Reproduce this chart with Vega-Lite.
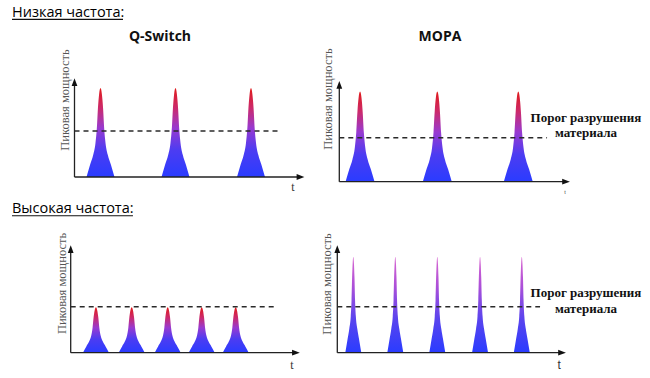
{
  "$schema": "https://vega.github.io/schema/vega-lite/v6.json",
  "padding": 0,
  "spacing": 0,
  "bounds": "flush",
  "columns": 2,
  "background": "white",
  "config": {"view": {"stroke": null}, "concat": {"spacing": 0}},
  "datasets": {
    "pulses": [
      {"panel": "A", "id": "A1", "t": [0.48, 0.626, 0.749, 0.838, 0.894, 0.939, 0.984, 1.04, 1.096, 1.141, 1.186, 1.242, 1.331, 1.454, 1.6], "p": [0, 0.14, 0.25, 0.38, 0.55, 0.78, 0.93, 1, 0.93, 0.78, 0.55, 0.38, 0.25, 0.14, 0]},
      {"panel": "A", "id": "A2", "t": [3.48, 3.626, 3.749, 3.838, 3.894, 3.939, 3.984, 4.04, 4.096, 4.141, 4.186, 4.242, 4.331, 4.454, 4.6], "p": [0, 0.14, 0.25, 0.38, 0.55, 0.78, 0.93, 1, 0.93, 0.78, 0.55, 0.38, 0.25, 0.14, 0]},
      {"panel": "A", "id": "A3", "t": [6.5, 6.646, 6.769, 6.858, 6.914, 6.959, 7.004, 7.06, 7.116, 7.161, 7.206, 7.262, 7.351, 7.474, 7.62], "p": [0, 0.14, 0.25, 0.38, 0.55, 0.78, 0.93, 1, 0.93, 0.78, 0.55, 0.38, 0.25, 0.14, 0]},
      {"panel": "B", "id": "B1", "t": [0.25, 0.401, 0.528, 0.621, 0.679, 0.726, 0.772, 0.83, 0.888, 0.934, 0.981, 1.039, 1.132, 1.259, 1.41], "p": [0, 0.142, 0.253, 0.385, 0.557, 0.79, 0.942, 1.013, 0.942, 0.79, 0.557, 0.385, 0.253, 0.142, 0]},
      {"panel": "B", "id": "B2", "t": [3.34, 3.491, 3.618, 3.711, 3.769, 3.816, 3.862, 3.92, 3.978, 4.024, 4.071, 4.129, 4.222, 4.349, 4.5], "p": [0, 0.142, 0.253, 0.385, 0.557, 0.79, 0.942, 1.013, 0.942, 0.79, 0.557, 0.385, 0.253, 0.142, 0]},
      {"panel": "B", "id": "B3", "t": [6.58, 6.731, 6.858, 6.951, 7.009, 7.056, 7.102, 7.16, 7.218, 7.264, 7.311, 7.369, 7.462, 7.589, 7.74], "p": [0, 0.142, 0.253, 0.385, 0.557, 0.79, 0.942, 1.013, 0.942, 0.79, 0.557, 0.385, 0.253, 0.142, 0]},
      {"panel": "C", "id": "C1", "t": [0.49, 0.625, 0.74, 0.823, 0.875, 0.916, 0.958, 1.01, 1.062, 1.104, 1.145, 1.197, 1.28, 1.395, 1.53], "p": [0, 0.071, 0.128, 0.194, 0.281, 0.398, 0.474, 0.51, 0.474, 0.398, 0.281, 0.194, 0.128, 0.071, 0]},
      {"panel": "C", "id": "C2", "t": [1.92, 2.055, 2.17, 2.253, 2.305, 2.346, 2.388, 2.44, 2.492, 2.534, 2.575, 2.627, 2.71, 2.825, 2.96], "p": [0, 0.071, 0.128, 0.194, 0.281, 0.398, 0.474, 0.51, 0.474, 0.398, 0.281, 0.194, 0.128, 0.071, 0]},
      {"panel": "C", "id": "C3", "t": [3.36, 3.495, 3.61, 3.693, 3.745, 3.786, 3.828, 3.88, 3.932, 3.974, 4.015, 4.067, 4.15, 4.265, 4.4], "p": [0, 0.071, 0.128, 0.194, 0.281, 0.398, 0.474, 0.51, 0.474, 0.398, 0.281, 0.194, 0.128, 0.071, 0]},
      {"panel": "C", "id": "C4", "t": [4.72, 4.855, 4.97, 5.053, 5.105, 5.146, 5.188, 5.24, 5.292, 5.334, 5.375, 5.427, 5.51, 5.625, 5.76], "p": [0, 0.071, 0.128, 0.194, 0.281, 0.398, 0.474, 0.51, 0.474, 0.398, 0.281, 0.194, 0.128, 0.071, 0]},
      {"panel": "C", "id": "C5", "t": [6.08, 6.215, 6.33, 6.413, 6.465, 6.506, 6.548, 6.6, 6.652, 6.694, 6.735, 6.787, 6.87, 6.985, 7.12], "p": [0, 0.071, 0.128, 0.194, 0.281, 0.398, 0.474, 0.51, 0.474, 0.398, 0.281, 0.194, 0.128, 0.071, 0]},
      {"panel": "D", "id": "D1", "t": [0.32, 0.41, 0.48, 0.538, 0.57, 0.592, 0.614, 0.64, 0.666, 0.688, 0.71, 0.742, 0.8, 0.87, 0.96], "p": [0, 0.151, 0.27, 0.41, 0.593, 0.842, 1.003, 1.079, 1.003, 0.842, 0.593, 0.41, 0.27, 0.151, 0]},
      {"panel": "D", "id": "D2", "t": [2.0, 2.09, 2.16, 2.218, 2.25, 2.272, 2.294, 2.32, 2.346, 2.368, 2.39, 2.422, 2.48, 2.55, 2.64], "p": [0, 0.151, 0.27, 0.41, 0.593, 0.842, 1.003, 1.079, 1.003, 0.842, 0.593, 0.41, 0.27, 0.151, 0]},
      {"panel": "D", "id": "D3", "t": [3.68, 3.77, 3.84, 3.898, 3.93, 3.952, 3.974, 4.0, 4.026, 4.048, 4.07, 4.102, 4.16, 4.23, 4.32], "p": [0, 0.151, 0.27, 0.41, 0.593, 0.842, 1.003, 1.079, 1.003, 0.842, 0.593, 0.41, 0.27, 0.151, 0]},
      {"panel": "D", "id": "D4", "t": [5.39, 5.48, 5.55, 5.608, 5.64, 5.662, 5.684, 5.71, 5.736, 5.758, 5.78, 5.812, 5.87, 5.94, 6.03], "p": [0, 0.151, 0.27, 0.41, 0.593, 0.842, 1.003, 1.079, 1.003, 0.842, 0.593, 0.41, 0.27, 0.151, 0]},
      {"panel": "D", "id": "D5", "t": [7.06, 7.15, 7.22, 7.278, 7.31, 7.332, 7.354, 7.38, 7.406, 7.428, 7.45, 7.482, 7.54, 7.61, 7.7], "p": [0, 0.151, 0.27, 0.41, 0.593, 0.842, 1.003, 1.079, 1.003, 0.842, 0.593, 0.41, 0.27, 0.151, 0]}
    ]
  },
  "concat": [
    {
      "width": 316, "height": 196,
      "encoding": {
        "x": {"field": "t", "type": "quantitative", "scale": {"domain": [-2.98, 9.66]}, "axis": null},
        "y": {"field": "p", "type": "quantitative", "scale": {"domain": [-0.2135, 1.9888]}, "axis": null}
      },
      "layer": [
        {"data": {"name": "pulses"}, "transform": [{"filter": "datum.panel === 'A'"}, {"flatten": ["t", "p"]}],
         "mark": {"type": "area", "interpolate": "monotone", "opacity": 1, "color": {"gradient": "linear", "x1": 0, "y1": 1, "x2": 0, "y2": 0, "stops": [{"offset": 0, "color": "#2a3cff"}, {"offset": 0.3, "color": "#4c3cf2"}, {"offset": 0.55, "color": "#983ad0"}, {"offset": 0.78, "color": "#cc2a6a"}, {"offset": 1, "color": "#e01a1a"}]}},
         "encoding": {"detail": {"field": "id"}, "y2": {"datum": 0}}},
        {"data": {"values": [{"t": 0, "p": 0, "t2": 0, "p2": 1.06}, {"t": 0, "p": 0, "t2": 9.0, "p2": 0}]},
         "mark": {"type": "rule", "color": "#222", "strokeWidth": 1.3},
         "encoding": {"x2": {"field": "t2"}, "y2": {"field": "p2"}}},
        {"data": {"values": [{"t": 0, "p": 1.067, "dir": "up"}, {"t": 9.04, "p": 0, "dir": "right"}]},
         "mark": {"type": "point", "filled": true, "opacity": 1, "size": 60, "color": "#111", "strokeWidth": 0},
         "encoding": {"shape": {"field": "dir", "scale": {"domain": ["up", "right"], "range": ["M-0.75,1L0,-1L0.75,1Z", "M-1,-0.75L1,0L-1,0.75Z"]}, "legend": null}}},
        {"data": {"values": [{"t": 0, "p": 0.517, "t2": 8.22}]},
         "mark": {"type": "rule", "color": "#2a2a2a", "strokeWidth": 1.4, "strokeDash": [5, 4]},
         "encoding": {"x2": {"field": "t2"}}},
        {"data": {"values": [{"t": -0.38, "p": 0.865, "label": "Пиковая мощность"}]},
         "mark": {"type": "text", "angle": 270, "font": "Liberation Serif", "fontSize": 12.5, "color": "#555", "align": "center", "baseline": "middle"},
         "encoding": {"text": {"field": "label"}}},
        {"data": {"values": [{"t": 8.74, "p": -0.112, "label": "t"}]},
         "mark": {"type": "text", "font": "Liberation Serif", "fontSize": 12, "color": "#333", "align": "center", "baseline": "middle"},
         "encoding": {"text": {"field": "label"}}},
        {"data": {"values": [{"t": 3.42, "p": 1.573, "label": "Q-Switch"}]},
         "mark": {"type": "text", "font": "Open Sans", "fontWeight": "bold", "fontSize": 14, "color": "#111", "align": "center", "baseline": "middle"},
         "encoding": {"text": {"field": "label"}}},
        {"data": {"values": [{"t": -2.5, "p": 1.798, "label": "Низкая частота:"}]},
         "mark": {"type": "text", "font": "Open Sans", "fontSize": 14.5, "color": "#000", "align": "left", "baseline": "alphabetic"},
         "encoding": {"text": {"field": "label"}}},
        {"data": {"values": [{"t": -2.5, "p": 1.77, "t2": 1.94}]},
         "mark": {"type": "rule", "color": "#111", "strokeWidth": 1.2},
         "encoding": {"x2": {"field": "t2"}}}
      ]
    },
    {
      "width": 334, "height": 196,
      "encoding": {
        "x": {"field": "t", "type": "quantitative", "scale": {"domain": [-0.932, 12.428]}, "axis": null},
        "y": {"field": "p", "type": "quantitative", "scale": {"domain": [-0.1607, 2.0416]}, "axis": null}
      },
      "layer": [
        {"data": {"name": "pulses"}, "transform": [{"filter": "datum.panel === 'B'"}, {"flatten": ["t", "p"]}],
         "mark": {"type": "area", "interpolate": "monotone", "opacity": 1, "color": {"gradient": "linear", "x1": 0, "y1": 1, "x2": 0, "y2": 0, "stops": [{"offset": 0, "color": "#2a3cff"}, {"offset": 0.3, "color": "#4c3cf2"}, {"offset": 0.55, "color": "#983ad0"}, {"offset": 0.78, "color": "#cc2a6a"}, {"offset": 1, "color": "#e01a1a"}]}},
         "encoding": {"detail": {"field": "id"}, "y2": {"datum": 0}}},
        {"data": {"values": [{"t": 0, "p": 0, "t2": 0, "p2": 1.08}, {"t": 0, "p": 0, "t2": 9.03, "p2": 0}]},
         "mark": {"type": "rule", "color": "#222", "strokeWidth": 1.3},
         "encoding": {"x2": {"field": "t2"}, "y2": {"field": "p2"}}},
        {"data": {"values": [{"t": 0, "p": 1.087, "dir": "up"}, {"t": 9.07, "p": 0, "dir": "right"}]},
         "mark": {"type": "point", "filled": true, "opacity": 1, "size": 60, "color": "#111", "strokeWidth": 0},
         "encoding": {"shape": {"field": "dir", "scale": {"domain": ["up", "right"], "range": ["M-0.75,1L0,-1L0.75,1Z", "M-1,-0.75L1,0L-1,0.75Z"]}, "legend": null}}},
        {"data": {"values": [{"t": 0, "p": 0.494, "t2": 8.31}]},
         "mark": {"type": "rule", "color": "#2a2a2a", "strokeWidth": 1.4, "strokeDash": [5, 4]},
         "encoding": {"x2": {"field": "t2"}}},
        {"data": {"values": [{"t": -0.452, "p": 0.929, "label": "Пиковая мощность"}]},
         "mark": {"type": "text", "angle": 270, "font": "Liberation Serif", "fontSize": 12.5, "color": "#555", "align": "center", "baseline": "middle"},
         "encoding": {"text": {"field": "label"}}},
        {"data": {"values": [{"t": 9.03, "p": -0.116, "label": "t"}]},
         "mark": {"type": "text", "font": "Liberation Serif", "fontSize": 6, "color": "#444", "align": "center", "baseline": "middle"},
         "encoding": {"text": {"field": "label"}}},
        {"data": {"values": [{"t": 4.028, "p": 1.626, "label": "MOPA"}]},
         "mark": {"type": "text", "font": "Open Sans", "fontWeight": "bold", "fontSize": 14, "color": "#111", "align": "center", "baseline": "middle"},
         "encoding": {"text": {"field": "label"}}},
        {"data": {"values": [{"t": 9.868, "p": 0.716, "label": "Порог разрушения"}, {"t": 9.868, "p": 0.547, "label": "материала"}]},
         "mark": {"type": "text", "font": "Liberation Serif", "fontWeight": "bold", "fontSize": 13, "color": "#111", "align": "center", "baseline": "middle"},
         "encoding": {"text": {"field": "label"}}}
      ]
    },
    {
      "width": 316, "height": 182,
      "encoding": {
        "x": {"field": "t", "type": "quantitative", "scale": {"domain": [-2.828, 9.812]}, "axis": null},
        "y": {"field": "p", "type": "quantitative", "scale": {"domain": [-0.2843, 1.7607]}, "axis": null}
      },
      "layer": [
        {"data": {"name": "pulses"}, "transform": [{"filter": "datum.panel === 'C'"}, {"flatten": ["t", "p"]}],
         "mark": {"type": "area", "interpolate": "monotone", "opacity": 1, "color": {"gradient": "linear", "x1": 0, "y1": 1, "x2": 0, "y2": 0, "stops": [{"offset": 0, "color": "#2a3cff"}, {"offset": 0.3, "color": "#4c3cf2"}, {"offset": 0.55, "color": "#983ad0"}, {"offset": 0.78, "color": "#cc2a6a"}, {"offset": 1, "color": "#e01a1a"}]}},
         "encoding": {"detail": {"field": "id"}, "y2": {"datum": 0}}},
        {"data": {"values": [{"t": 0, "p": 0, "t2": 0, "p2": 1.16}, {"t": 0, "p": 0, "t2": 8.97, "p2": 0}]},
         "mark": {"type": "rule", "color": "#222", "strokeWidth": 1.3},
         "encoding": {"x2": {"field": "t2"}, "y2": {"field": "p2"}}},
        {"data": {"values": [{"t": 0, "p": 1.165, "dir": "up"}, {"t": 9.01, "p": 0, "dir": "right"}]},
         "mark": {"type": "point", "filled": true, "opacity": 1, "size": 60, "color": "#111", "strokeWidth": 0},
         "encoding": {"shape": {"field": "dir", "scale": {"domain": ["up", "right"], "range": ["M-0.75,1L0,-1L0.75,1Z", "M-1,-0.75L1,0L-1,0.75Z"]}, "legend": null}}},
        {"data": {"values": [{"t": 0, "p": 0.517, "t2": 8.15}]},
         "mark": {"type": "rule", "color": "#2a2a2a", "strokeWidth": 1.4, "strokeDash": [5, 4]},
         "encoding": {"x2": {"field": "t2"}}},
        {"data": {"values": [{"t": -0.348, "p": 0.778, "label": "Пиковая мощность"}]},
         "mark": {"type": "text", "angle": 270, "font": "Liberation Serif", "fontSize": 12.5, "color": "#555", "align": "center", "baseline": "middle"},
         "encoding": {"text": {"field": "label"}}},
        {"data": {"values": [{"t": 8.85, "p": -0.138, "label": "t"}]},
         "mark": {"type": "text", "font": "Liberation Serif", "fontSize": 12, "color": "#333", "align": "center", "baseline": "middle"},
         "encoding": {"text": {"field": "label"}}},
        {"data": {"values": [{"t": -2.348, "p": 1.57, "label": "Высокая частота:"}]},
         "mark": {"type": "text", "font": "Open Sans", "fontSize": 14.5, "color": "#000", "align": "left", "baseline": "alphabetic"},
         "encoding": {"text": {"field": "label"}}},
        {"data": {"values": [{"t": -2.348, "p": 1.539, "t2": 2.49}]},
         "mark": {"type": "rule", "color": "#111", "strokeWidth": 1.2},
         "encoding": {"x2": {"field": "t2"}}}
      ]
    },
    {
      "width": 334, "height": 182,
      "encoding": {
        "x": {"field": "t", "type": "quantitative", "scale": {"domain": [-0.852, 12.508]}, "axis": null},
        "y": {"field": "p", "type": "quantitative", "scale": {"domain": [-0.2843, 1.7607]}, "axis": null}
      },
      "layer": [
        {"data": {"name": "pulses"}, "transform": [{"filter": "datum.panel === 'D'"}, {"flatten": ["t", "p"]}],
         "mark": {"type": "area", "interpolate": "monotone", "opacity": 1, "color": {"gradient": "linear", "x1": 0, "y1": 1, "x2": 0, "y2": 0, "stops": [{"offset": 0, "color": "#2a3cff"}, {"offset": 0.35, "color": "#5a44ee"}, {"offset": 0.7, "color": "#ae50d8"}, {"offset": 1, "color": "#d866d0"}]}},
         "encoding": {"detail": {"field": "id"}, "y2": {"datum": 0}}},
        {"data": {"values": [{"t": 0, "p": 0, "t2": 0, "p2": 1.16}, {"t": 0, "p": 0, "t2": 8.95, "p2": 0}]},
         "mark": {"type": "rule", "color": "#222", "strokeWidth": 1.3},
         "encoding": {"x2": {"field": "t2"}, "y2": {"field": "p2"}}},
        {"data": {"values": [{"t": 0, "p": 1.165, "dir": "up"}, {"t": 8.99, "p": 0, "dir": "right"}]},
         "mark": {"type": "point", "filled": true, "opacity": 1, "size": 60, "color": "#111", "strokeWidth": 0},
         "encoding": {"shape": {"field": "dir", "scale": {"domain": ["up", "right"], "range": ["M-0.75,1L0,-1L0.75,1Z", "M-1,-0.75L1,0L-1,0.75Z"]}, "legend": null}}},
        {"data": {"values": [{"t": 0, "p": 0.517, "t2": 8.11}]},
         "mark": {"type": "rule", "color": "#2a2a2a", "strokeWidth": 1.4, "strokeDash": [5, 4]},
         "encoding": {"x2": {"field": "t2"}}},
        {"data": {"values": [{"t": -0.41, "p": 0.772, "label": "Пиковая мощность"}]},
         "mark": {"type": "text", "angle": 270, "font": "Liberation Serif", "fontSize": 12.5, "color": "#555", "align": "center", "baseline": "middle"},
         "encoding": {"text": {"field": "label"}}},
        {"data": {"values": [{"t": 8.87, "p": -0.138, "label": "t"}]},
         "mark": {"type": "text", "font": "Liberation Sans", "fontSize": 12, "color": "#333", "align": "center", "baseline": "middle"},
         "encoding": {"text": {"field": "label"}}},
        {"data": {"values": [{"t": 9.948, "p": 0.671, "label": "Порог разрушения"}, {"t": 9.948, "p": 0.491, "label": "материала"}]},
         "mark": {"type": "text", "font": "Liberation Serif", "fontWeight": "bold", "fontSize": 13, "color": "#111", "align": "center", "baseline": "middle"},
         "encoding": {"text": {"field": "label"}}}
      ]
    }
  ]
}
